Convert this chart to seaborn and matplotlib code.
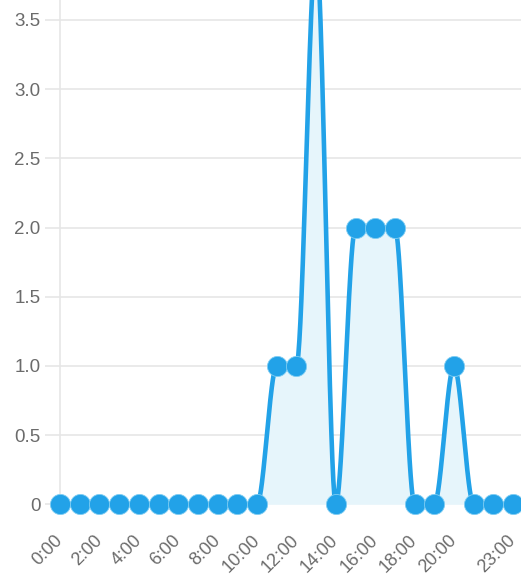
import numpy as np
import pandas as pd
import matplotlib
matplotlib.use("Agg")
import matplotlib.pyplot as plt
import matplotlib.transforms as mtransforms
import seaborn as sns
from matplotlib.ticker import FuncFormatter

hours = list(range(24))
values = [0, 0, 0, 0, 0, 0, 0, 0, 0, 0, 0, 1, 1, 4, 0, 2, 2, 2, 0, 0, 1, 0, 0, 0]
tick_hours = [0, 2, 4, 6, 8, 10, 12, 14, 16, 18, 20, 23]
tick_labels = ["0:00", "2:00", "4:00", "6:00", "8:00", "10:00", "12:00",
               "14:00", "16:00", "18:00", "20:00", "23:00"]
y_ticks = [0, 0.5, 1.0, 1.5, 2.0, 2.5, 3.0, 3.5]

LINE = "#22a2e8"
FILL = "#e6f5fb"
GRID = "#e6e6e6"
TXT = "#6b6b6b"


def pchip(x, y, n=40):
    x = np.asarray(x, float)
    y = np.asarray(y, float)
    h = np.diff(x)
    d = np.diff(y) / h
    m = np.zeros_like(y)
    for i in range(1, len(y) - 1):
        if d[i - 1] * d[i] > 0:
            w1 = 2 * h[i] + h[i - 1]
            w2 = h[i] + 2 * h[i - 1]
            m[i] = (w1 + w2) / (w1 / d[i - 1] + w2 / d[i])
    xs, ys = [], []
    for i in range(len(x) - 1):
        t = np.linspace(0, 1, n, endpoint=(i == len(x) - 2))
        h00 = 2 * t**3 - 3 * t**2 + 1
        h10 = t**3 - 2 * t**2 + t
        h01 = -2 * t**3 + 3 * t**2
        h11 = t**3 - t**2
        xs.append(x[i] + t * h[i])
        ys.append(h00 * y[i] + h10 * h[i] * m[i] + h01 * y[i + 1] + h11 * h[i] * m[i + 1])
    return np.concatenate(xs), np.concatenate(ys)


sns.set_theme(style="white")
plt.rcParams["font.family"] = ["Liberation Sans", "DejaVu Sans"]

W, H = 521, 575
fig = plt.figure(figsize=(W / 100, H / 100), dpi=100)
left_px, zero_px = 60, 504.3
px_per_x = 19.7
px_per_y = 138.4
ax = fig.add_axes([left_px / W, (H - zero_px) / H, (W - left_px) / W, zero_px / H])
ax.set_xlim(0, (W - left_px) / px_per_x)
ax.set_ylim(0, zero_px / px_per_y)

df = pd.DataFrame({"hour": hours, "value": values})
sx, sy = pchip(hours, values)
ax.fill_between(sx, sy, 0, color=FILL, zorder=1, lw=0)
sns.lineplot(x=sx, y=sy, ax=ax, color=LINE, lw=3.3, zorder=3, sort=False)
sns.scatterplot(data=df, x="hour", y="value", ax=ax, color=LINE, s=210,
                edgecolor="#7fcdf3", linewidth=0.6, zorder=4, clip_on=False)

ax.set_yticks(y_ticks)
ax.yaxis.set_major_formatter(FuncFormatter(lambda v, p: "0" if v == 0 else f"{v:.1f}"))
ax.set_xticks(tick_hours)
ax.set_xticklabels(tick_labels, rotation=45, ha="right", va="center",
                   rotation_mode="anchor")
offset = mtransforms.ScaledTranslation(-5 / 100, 0, fig.dpi_scale_trans)
for lab in ax.get_xticklabels():
    lab.set_transform(lab.get_transform() + offset)
ax.grid(axis="y", color=GRID, lw=1.2, zorder=0)
ax.grid(axis="x", visible=False)
for s in ["top", "right", "bottom"]:
    ax.spines[s].set_visible(False)
ax.spines["left"].set_color(GRID)
ax.spines["left"].set_linewidth(1.2)
ax.axhline(0, color="#dddddd", lw=1.2, zorder=0.5)
ax.tick_params(axis="y", length=11, width=1.2, color=GRID,
               labelsize=13.5, pad=3, left=True, labelcolor=TXT)
ax.tick_params(axis="x", length=0, labelsize=13, labelcolor=TXT, pad=24)
ax.set_xlabel("")
ax.set_ylabel("")

fig.savefig("out.png", dpi=100)
